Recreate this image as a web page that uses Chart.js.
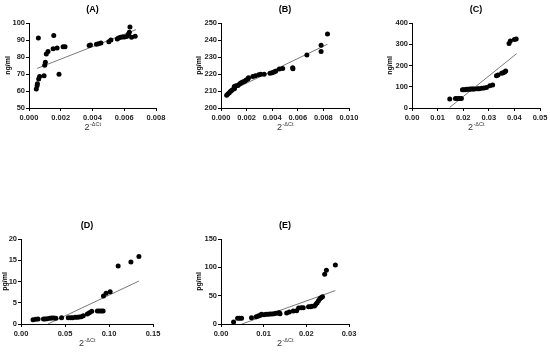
<!DOCTYPE html>
<html><head><meta charset="utf-8">
<script src="https://cdn.jsdelivr.net/npm/chart.js@4"></script>
<style>
html,body{margin:0;padding:0;background:#fff;width:550px;height:355px;overflow:hidden;position:relative}
canvas{position:absolute}
</style></head><body>
<script>
// ---------- data ----------
const panelTitles = ['(A)', '(B)', '(C)', '(D)', '(E)'];
const yTitles = ['ng/ml', 'pg/ml', 'ng/ml', 'pg/ml', 'pg/ml'];
const xTitleBase = '2';
const xTitleSup = '-ΔCt';

const aX = [0.00046,0.00051,0.00053,0.00061,0.00067,0.00059,0.00095,0.00099,0.00103,0.00109,0.0012,0.00152,0.00156,0.00177,0.00189,0.00215,0.00227,0.00379,0.00387,0.00425,0.00438,0.00453,0.00503,0.00516,0.00556,0.00564,0.00577,0.00589,0.00602,0.00615,0.00627,0.00632,0.00636,0.00646,0.00669];
const aY = [61.2,63.1,64.3,67.1,68.6,91.2,69.0,75.1,76.9,81.8,83.3,84.9,92.7,85.3,69.8,86.1,86.1,86.7,87.1,87.5,87.8,88.2,89.0,90.0,90.6,91.2,91.6,91.8,91.8,92.0,93.5,94.5,97.6,91.6,92.2];
const aFitX = [0.00051, 0.00674];
const aFitY = [73.3, 96.1];

const bX = [0.00044,0.00054,0.00065,0.00075,0.00085,0.00098,0.00106,0.00104,0.00117,0.00132,0.00145,0.00155,0.00166,0.00176,0.00187,0.00197,0.0021,0.00215,0.00249,0.00269,0.00295,0.00311,0.00337,0.00383,0.00399,0.00415,0.00427,0.00456,0.00482,0.0056,0.00562,0.00671,0.00782,0.00782,0.00832];
const bY = [207.5,208.2,209.0,209.8,210.4,211.2,211.4,212.7,213.1,213.3,214.1,214.7,215.1,215.5,215.9,216.5,217.1,217.8,218.6,219.0,219.6,219.8,219.8,220.4,220.8,221.2,221.6,222.9,223.3,223.7,223.1,231.2,236.9,233.3,243.5];
const bFitX = [0.00039, 0.00832];
const bFitY = [208.8, 237.5];

const cX = [0.01475,0.01697,0.01775,0.0185,0.0193,0.0197,0.0202,0.0208,0.0213,0.0218,0.0223,0.0228,0.0234,0.0239,0.0244,0.0255,0.0262,0.0272,0.0281,0.0291,0.0304,0.0315,0.033,0.0336,0.035,0.0356,0.0362,0.0366,0.0379,0.0384,0.04,0.0407];
const cY = [42,45,45,45,45,86,86,86,88,88,88,89,89,89,89,91,91,93,94,96,105,108,152,155,163,166,169,174,303,315,322,325];
const cFitX = [0.01475, 0.0409];
const cFitY = [3, 256];

const dX = [0.0137,0.0168,0.0194,0.0255,0.0274,0.0297,0.0327,0.035,0.0373,0.0396,0.0461,0.0537,0.0564,0.0586,0.0617,0.064,0.0662,0.0685,0.0708,0.0754,0.0777,0.0804,0.0868,0.0891,0.0914,0.0933,0.0937,0.0967,0.1013,0.1104,0.1249,0.134];
const dY = [1.02,1.1,1.18,1.18,1.18,1.25,1.33,1.41,1.41,1.33,1.49,1.49,1.49,1.49,1.57,1.57,1.65,1.73,1.96,2.35,2.67,2.98,3.06,3.06,3.06,3.06,6.59,7.22,7.6,13.65,14.6,15.9];
const dFitX = [0.0305, 0.134];
const dFitY = [0, 10.1];

const eX = [0.00295,0.00389,0.00435,0.00482,0.00715,0.00824,0.0087,0.00917,0.00948,0.0101,0.01057,0.01104,0.0115,0.01197,0.01243,0.0129,0.01337,0.01368,0.01383,0.01539,0.01601,0.01694,0.01772,0.01819,0.01881,0.01928,0.02052,0.02099,0.0213,0.02192,0.02223,0.02254,0.02285,0.02316,0.02347,0.02378,0.0243,0.0247,0.0268];
const eY = [3.5,10,10,10,11.2,12.9,14.1,15.3,17.1,16.5,17.1,17.1,17.6,17.6,18.2,18.8,19.4,20,18.2,19.4,21.2,22.9,23.5,28.2,28.8,28.8,30.6,30.6,31.2,31.8,34.7,37.6,41.2,44.7,46.5,48.2,88,95,104];
const eFitX = [0.0049, 0.0268];
const eFitY = [0, 59];

// axis ranges / tick steps
const xMins = [0, 0, 0, 0, 0];
const xMaxs = [0.008, 0.010, 0.05, 0.15, 0.03];
const xSteps = [0.002, 0.002, 0.01, 0.05, 0.01];
const xDecimals = [3, 3, 2, 2, 2];
const yMins = [50, 200, 0, 0, 0];
const yMaxs = [100, 250, 400, 20, 150];
const ySteps = [10, 10, 100, 5, 50];

// ---------- layout ----------
const plotRects = [ // left, top, right, bottom of the plotting area
  [29, 23, 156, 108],
  [221, 23, 349, 108],
  [412, 23, 540, 108],
  [21, 239, 153, 324],
  [221, 239, 349, 324]
];
const yTitleOffsets = [21, 22, 21.5, 15.5, 22];
const FONT = '"Liberation Sans", Arial, Helvetica, sans-serif';

const titlePlugin = {
  id: 'panelTitles',
  afterDraw(chart, args, o) {
    const ctx = chart.ctx, ca = chart.chartArea;
    const cx = (ca.left + ca.right) / 2;
    ctx.save();
    ctx.fillStyle = '#000';
    ctx.textAlign = 'center';
    ctx.textBaseline = 'middle';
    ctx.font = 'bold 9px ' + FONT;
    ctx.fillText(o.title, cx, ca.top - 13.5);
    ctx.save();
    ctx.translate(ca.left - o.yOff, (ca.top + ca.bottom) / 2);
    ctx.rotate(-Math.PI / 2);
    ctx.font = 'bold 7px ' + FONT;
    ctx.fillText(o.yTitle, 0, 0);
    ctx.restore();
    ctx.font = '9px ' + FONT;
    const w1 = ctx.measureText(xTitleBase).width;
    ctx.font = '5.5px ' + FONT;
    const w2 = ctx.measureText(xTitleSup).width;
    const start = cx - (w1 + w2) / 2;
    ctx.textAlign = 'left';
    ctx.textBaseline = 'alphabetic';
    ctx.fillStyle = '#333';
    ctx.font = '9px ' + FONT;
    ctx.fillText(xTitleBase, start, ca.bottom + 22);
    ctx.font = '5.5px ' + FONT;
    ctx.fillText(xTitleSup, start + w1 + 0.5, ca.bottom + 17.5);
    ctx.restore();
  }
};

const allX = [aX, bX, cX, dX, eX];
const allY = [aY, bY, cY, dY, eY];
const allFX = [aFitX, bFitX, cFitX, dFitX, eFitX];
const allFY = [aFitY, bFitY, cFitY, dFitY, eFitY];

const PAD_TOP = 20, PAD_RIGHT = 16, X_H = 34;

plotRects.forEach((r, i) => {
  const [L, T, R, B] = r;
  const wy = (L < 40) ? L : 40;
  const cv = document.createElement('canvas');
  const W = wy + (R - L) + PAD_RIGHT;
  const H = PAD_TOP + (B - T) + X_H;
  cv.width = W; cv.height = H;
  cv.style.left = (L - wy) + 'px';
  cv.style.top = (T - PAD_TOP) + 'px';
  cv.style.width = W + 'px'; cv.style.height = H + 'px';
  document.body.appendChild(cv);

  const pts = allX[i].map((x, k) => ({ x: x, y: allY[i][k] }));
  const fit = allFX[i].map((x, k) => ({ x: x, y: allFY[i][k] }));
  const dec = xDecimals[i];

  new Chart(cv, {
    type: 'scatter',
    data: {
      datasets: [
        { data: fit, showLine: true, borderColor: '#7a7a7a', borderWidth: 1, pointRadius: 0, order: 2 },
        { data: pts, backgroundColor: '#000', borderWidth: 0, pointRadius: 2.5, pointHoverRadius: 2.5, order: 1 }
      ]
    },
    options: {
      responsive: false,
      animation: false,
      devicePixelRatio: 1,
      layout: { padding: { top: PAD_TOP, right: PAD_RIGHT, left: 0, bottom: 0 } },
      plugins: {
        legend: { display: false },
        tooltip: { enabled: false },
        panelTitles: { title: panelTitles[i], yTitle: yTitles[i], yOff: yTitleOffsets[i] }
      },
      scales: {
        x: {
          type: 'linear', min: xMins[i], max: xMaxs[i],
          afterFit: s => { s.height = X_H; },
          border: { display: true, color: '#000', width: 1 },
          grid: { display: true, drawOnChartArea: false, drawTicks: true, tickLength: 3, color: '#000', lineWidth: 1 },
          ticks: { stepSize: xSteps[i], maxRotation: 0, autoSkip: false, padding: 2, color: '#222',
                   font: { family: FONT, size: 7.5, weight: 'bold' },
                   callback: v => Number(v).toFixed(dec) }
        },
        y: {
          type: 'linear', min: yMins[i], max: yMaxs[i],
          afterFit: s => { s.width = wy; },
          border: { display: true, color: '#000', width: 1 },
          grid: { display: true, drawOnChartArea: false, drawTicks: true, tickLength: 3, color: '#000', lineWidth: 1 },
          ticks: { stepSize: ySteps[i], autoSkip: false, padding: 1, color: '#222',
                   font: { family: FONT, size: 7.5, weight: 'bold' },
                   callback: v => String(Math.round(v)) }
        }
      }
    },
    plugins: [titlePlugin]
  });
});
</script>
</body></html>
